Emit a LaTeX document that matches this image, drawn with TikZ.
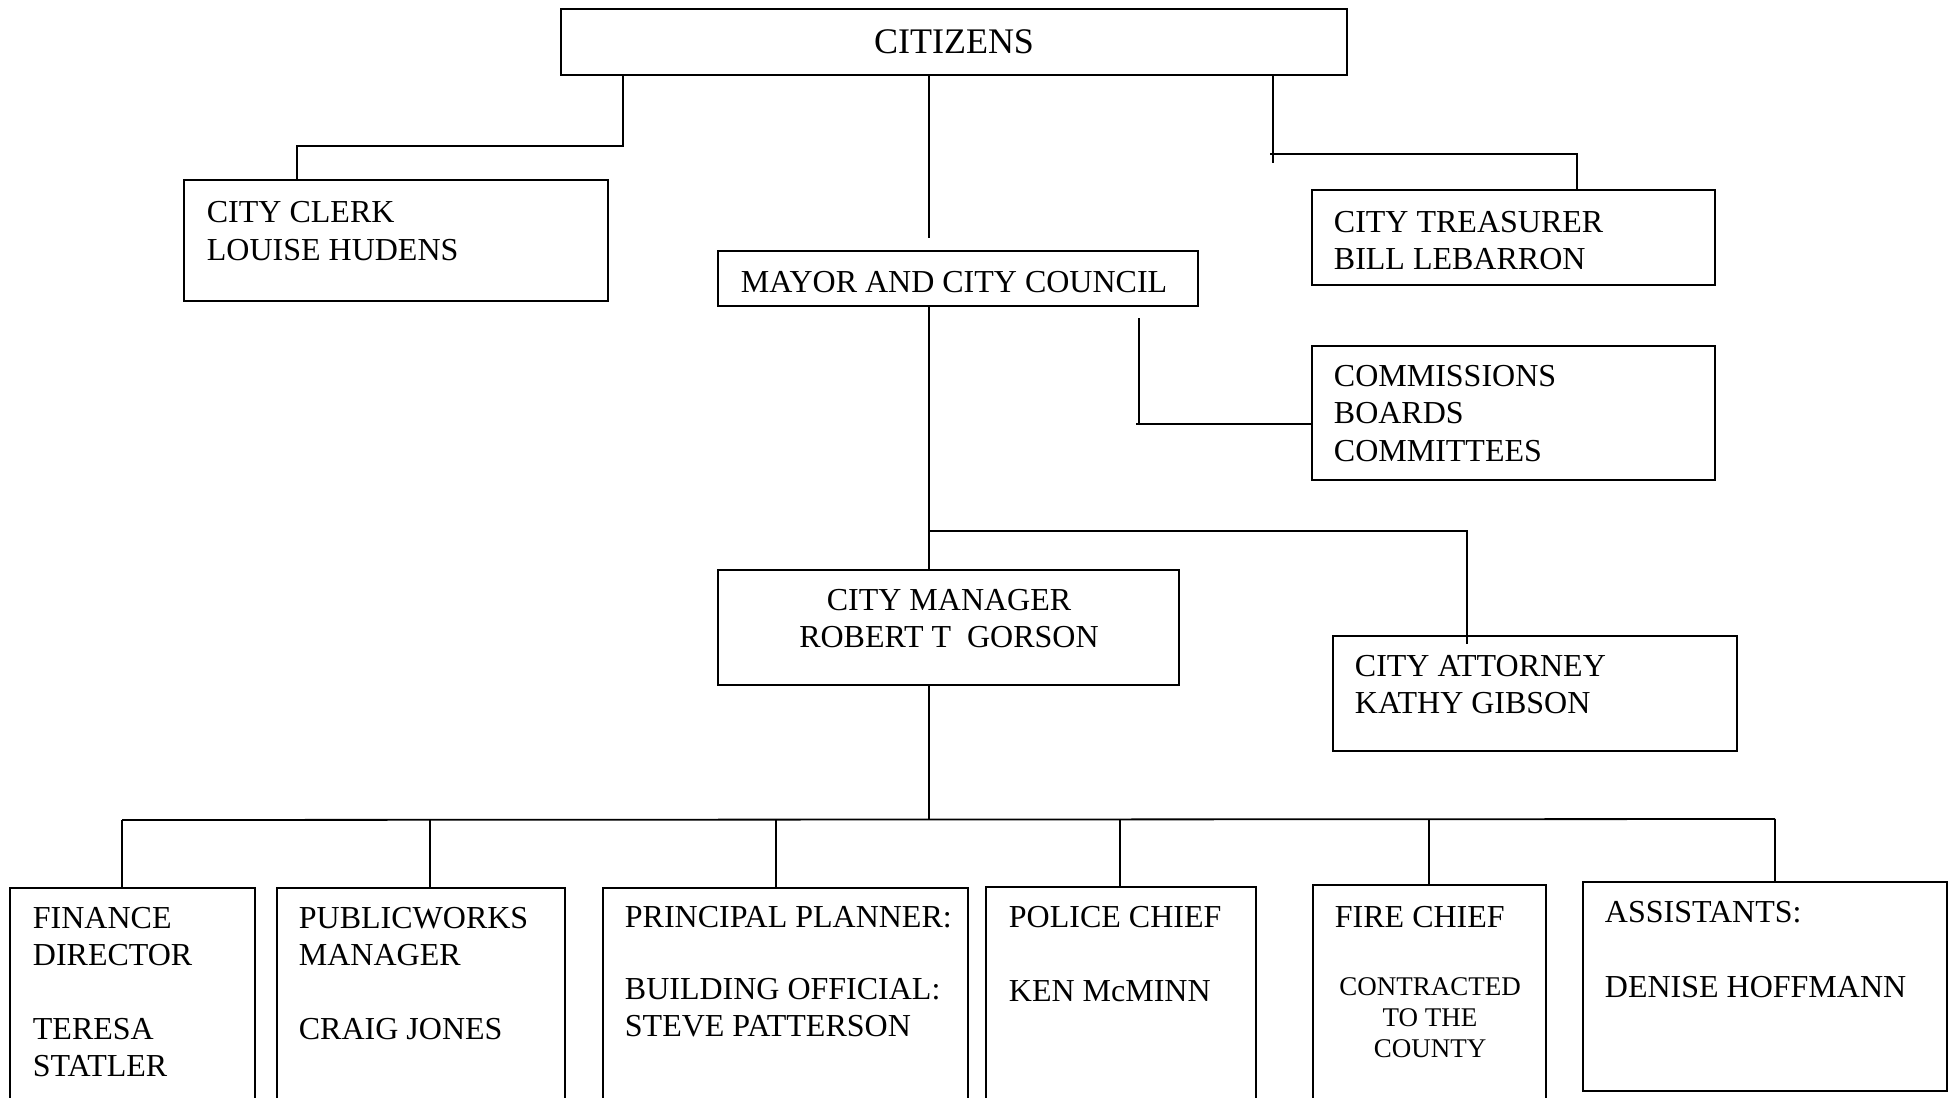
\documentclass[tikz,border=0pt]{standalone}
\usepackage{fontspec}
\setmainfont{Liberation Serif}
\begin{document}
\begin{tikzpicture}[x=1pt,y=-1pt,line width=1.8pt,
  box/.style={draw,rectangle,inner sep=0pt,line width=1.8pt},
  txt/.style={anchor=base west,inner sep=0pt,font=\fontsize{32}{37.5}\selectfont},
  ctxt/.style={anchor=base,inner sep=0pt,font=\fontsize{32}{37.5}\selectfont},
  smtxt/.style={anchor=base,inner sep=0pt,font=\fontsize{27}{31}\selectfont},
  bigtxt/.style={anchor=base,inner sep=0pt,font=\fontsize{36}{40}\selectfont}]
\useasboundingbox (0,0) rectangle (1950,1097);
\clip (0,0) rectangle (1950,1097);

% boxes
\node[box,minimum width=786pt,minimum height=66pt] (cit) at (954,42) {};
\node[box,minimum width=424pt,minimum height=121pt] (clk) at (396,240.5) {};
\node[box,minimum width=480pt,minimum height=55pt] (may) at (958,278.5) {};
\node[box,minimum width=403pt,minimum height=95pt] (tre) at (1513.5,237.5) {};
\node[box,minimum width=403pt,minimum height=134pt] (com) at (1513.5,413) {};
\node[box,minimum width=461pt,minimum height=115pt] (mgr) at (948.5,627.5) {};
\node[box,minimum width=404pt,minimum height=115pt] (att) at (1535,693.5) {};
\node[box,minimum width=245pt,minimum height=252pt] (fin) at (132.5,1014) {};
\node[box,minimum width=288pt,minimum height=252pt] (pw) at (421,1014) {};
\node[box,minimum width=365pt,minimum height=252pt] (pp) at (785.5,1014) {};
\node[box,minimum width=270pt,minimum height=254pt] (pol) at (1121,1014) {};
\node[box,minimum width=233pt,minimum height=256pt] (fire) at (1429.5,1013) {};
\node[box,minimum width=364pt,minimum height=209pt] (ass) at (1765,986.5) {};

% texts
\node[bigtxt] (tcit) at (954,54) {CITIZENS};
\node[txt] (tclk1) at (206,222) {CITY CLERK};
\node[txt] (tclk2) at (206,260) {LOUISE HUDENS};
\node[txt] (tmay) at (740,292) {MAYOR AND CITY COUNCIL};
\node[txt] (ttre1) at (1333,232) {CITY TREASURER};
\node[txt] (ttre2) at (1333,269) {BILL LEBARRON};
\node[txt] (tcom1) at (1333,386) {COMMISSIONS};
\node[txt] (tcom2) at (1333,423.5) {BOARDS};
\node[txt] (tcom3) at (1333,461) {COMMITTEES};
\node[ctxt] (tmgr1) at (949,610) {CITY MANAGER};
\node[ctxt] (tmgr2) at (949,647) {ROBERT T\ \ GORSON};
\node[txt] (tatt1) at (1354,676) {CITY ATTORNEY};
\node[txt] (tatt2) at (1354,713) {KATHY GIBSON};
\node[txt] (tfin1) at (32,928) {FINANCE};
\node[txt] (tfin2) at (32,965) {DIRECTOR};
\node[txt] (tfin3) at (32,1039) {TERESA};
\node[txt] (tfin4) at (32,1076) {STATLER};
\node[txt] (tpw1) at (298,928) {PUBLICWORKS};
\node[txt] (tpw2) at (298,965) {MANAGER};
\node[txt] (tpw3) at (298,1039) {CRAIG JONES};
\node[txt] (tpp1) at (624,927) {PRINCIPAL PLANNER:};
\node[txt] (tpp2) at (624,999) {BUILDING OFFICIAL:};
\node[txt] (tpp3) at (624,1036) {STEVE PATTERSON};
\node[txt] (tpol1) at (1008,927) {POLICE CHIEF};
\node[txt] (tpol2) at (1008,1001) {KEN McMINN};
\node[txt] (tfire1) at (1334,927) {FIRE CHIEF};
\node[smtxt] (tfire2) at (1430,995) {CONTRACTED};
\node[smtxt] (tfire3) at (1430,1026) {TO THE};
\node[smtxt] (tfire4) at (1430,1057) {COUNTY};
\node[txt] (tass1) at (1604,922) {ASSISTANTS:};
\node[txt] (tass2) at (1604,997) {DENISE HOFFMANN};

% connectors
\coordinate (k1) at (623,146);
\coordinate (k2) at (297,146);
\draw (k1 |- cit.south) -- (k1) -- (k2) -- (k2 |- clk.north);

\coordinate (k3) at (929,238);
\draw (k3 |- cit.south) -- (k3);

\coordinate (k4) at (1273,163);
\coordinate (k4a) at (1270,154);
\coordinate (k5) at (1577,154);
\draw (k4 |- cit.south) -- (k4);
\draw (k4a) -- (k5) -- (k5 |- tre.north);

\coordinate (k6) at (1139,318);
\coordinate (k7) at (1139,424);
\coordinate (k7a) at (1136,424);
\draw (k6) -- (k7);
\draw (k7a) -- (k7a -| com.west);

\draw (k3 |- may.south) -- (k3 |- mgr.north);

\coordinate (k8) at (929,531);
\coordinate (k9) at (1467,531);
\coordinate (k10) at (1467,644);
\draw (k8) -- (k9) -- (k10);

\coordinate (k11) at (929,820);
\draw (k11 |- mgr.south) -- (k11);
\coordinate (hl) at (122,820);
\coordinate (hr) at (1775,819);
\draw (hl) -- (hr);
\foreach \n/\xx/\yy in {fin/122/820,pw/430/820,pp/776/820,pol/1120/819.5,fire/1429/819,ass/1775/819}{
  \coordinate (d\n) at (\xx,\yy);
  \draw (d\n) -- (d\n |- \n.north);
}
\end{tikzpicture}
\end{document}
